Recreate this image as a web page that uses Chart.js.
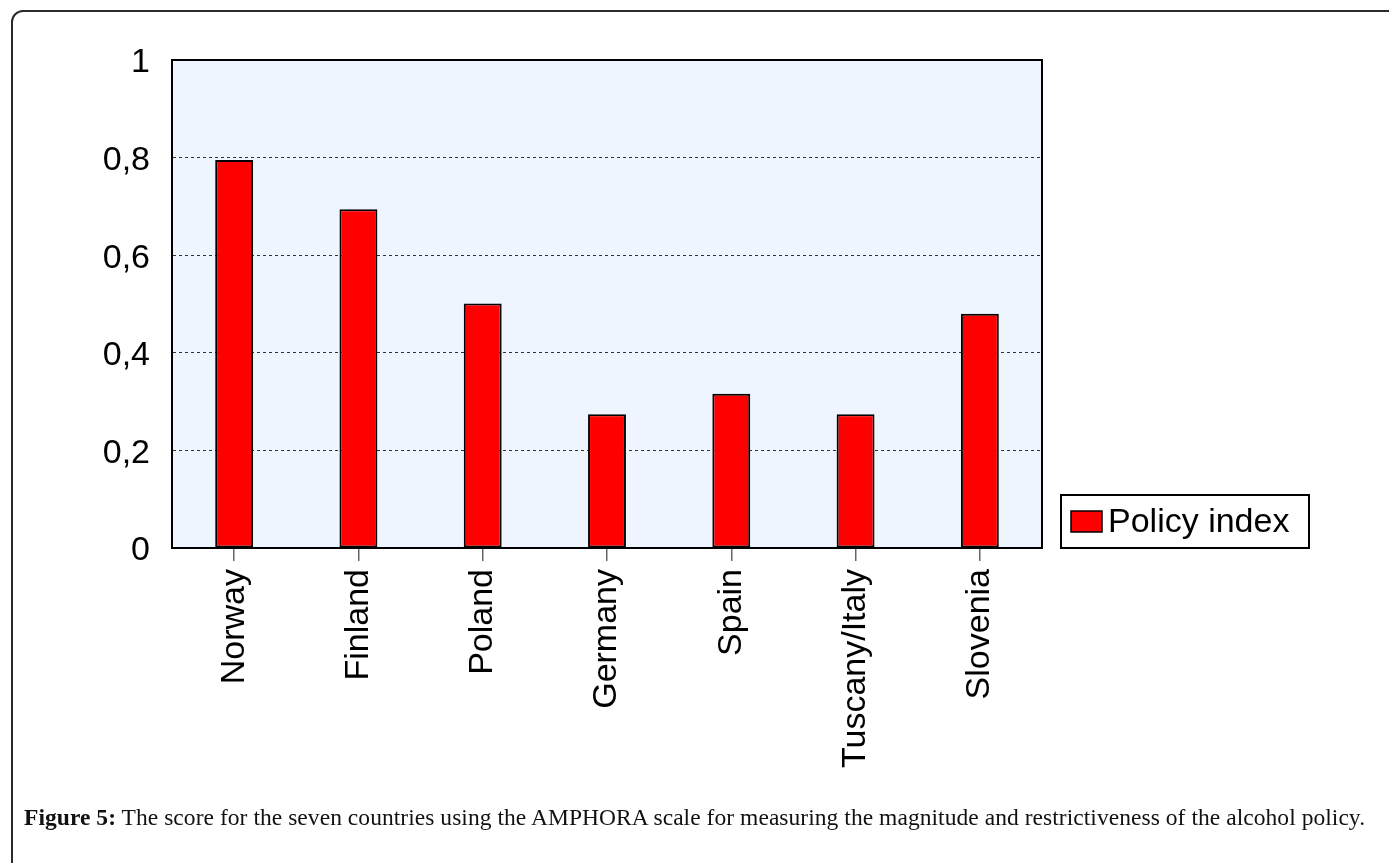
<!DOCTYPE html>
<html>
<head>
<meta charset="utf-8">
<script src="https://cdn.jsdelivr.net/npm/chart.js@4"></script>
<style>
  html, body { margin: 0; padding: 0; background: #fff; width: 1389px; height: 863px; overflow: hidden; }
  #frame { position: absolute; left: 11px; top: 10px; width: 2000px; height: 2000px;
           border: 2px solid #2b2b2b; border-radius: 12px; box-sizing: border-box; }
  #wrap { position: absolute; left: 0; top: 0; width: 1389px; height: 863px; }
  #caption { position: absolute; left: 24px; top: 804px; font-family: "Liberation Serif", "DejaVu Serif", serif;
             font-size: 23.5px; color: #111; white-space: nowrap; letter-spacing: 0.05px; }
  #caption b { font-weight: bold; }
</style>
</head>
<body>
<div id="frame"></div>
<div id="wrap"><canvas id="c" width="1389" height="863"></canvas></div>
<div id="caption"><b>Figure 5:</b> The score for the seven countries using the AMPHORA scale for measuring the magnitude and restrictiveness of the alcohol policy.</div>
<script>
const categories = ['Norway', 'Finland', 'Poland', 'Germany', 'Spain', 'Tuscany/Italy', 'Slovenia'];
const policyIndex = [0.795, 0.694, 0.501, 0.274, 0.316, 0.274, 0.480];
const seriesName = 'Policy index';
const yTickLabels = ['0', '0,2', '0,4', '0,6', '0,8', '1'];

const FONT = '"Liberation Sans", Arial, sans-serif';

const plotBg = {
  id: 'plotBg',
  beforeDraw(chart) {
    const { ctx, chartArea: a } = chart;
    ctx.save();
    ctx.fillStyle = '#eef5fe';
    ctx.fillRect(a.left, a.top, a.right - a.left, a.bottom - a.top);
    ctx.restore();
  },
  afterDraw(chart) {
    const { ctx, chartArea: a } = chart;
    ctx.save();
    ctx.strokeStyle = '#000';
    ctx.lineWidth = 2;
    ctx.strokeRect(a.left, a.top, a.right - a.left, a.bottom - a.top);
    // custom legend box
    const ds = chart.data.datasets[0];
    const bx = 1061, by = 495, bw = 248, bh = 53;
    ctx.fillStyle = '#fff';
    ctx.fillRect(bx, by, bw, bh);
    ctx.lineWidth = 2;
    ctx.strokeStyle = '#000';
    ctx.strokeRect(bx, by, bw, bh);
    ctx.fillStyle = ds.backgroundColor;
    ctx.fillRect(1071, 511, 31, 21);
    ctx.lineWidth = 1.5;
    ctx.strokeStyle = '#000';
    ctx.strokeRect(1071, 511, 31, 21);
    ctx.fillStyle = '#000';
    ctx.font = '34px ' + FONT;
    ctx.textBaseline = 'middle';
    ctx.textAlign = 'left';
    ctx.fillText(ds.label, 1108, 523);
    ctx.restore();
  }
};

new Chart(document.getElementById('c'), {
  type: 'bar',
  data: {
    labels: categories,
    datasets: [{
      label: seriesName,
      data: policyIndex,
      backgroundColor: '#ff0000',
      borderColor: '#000',
      borderWidth: 2,
      borderSkipped: false,
      categoryPercentage: 1,
      barPercentage: 0.305
    }]
  },
  options: {
    responsive: false,
    animation: false,
    layout: { padding: { left: 0, top: 60, right: 347, bottom: 0 } },
    plugins: { legend: { display: false }, tooltip: { enabled: false } },
    scales: {
      x: {
        offset: true,
        grid: { offset: false, drawOnChartArea: false, drawTicks: true, tickLength: 13, color: '#666', lineWidth: 1.5 },
        border: { display: true, color: '#000', width: 2 },
        ticks: { autoSkip: false, minRotation: 90, maxRotation: 90, padding: 8, color: '#000',
                 font: { family: FONT, size: 34 } },
        afterFit(scale) { scale.height = 315; }
      },
      y: {
        min: 0, max: 1,
        grid: { color: '#333', lineWidth: 1, drawTicks: false },
        border: { display: true, color: '#000', width: 2, dash: [3, 3] },
        ticks: { stepSize: 0.2, padding: 22, labelOffset: 3, color: '#000', font: { family: FONT, size: 34 },
                 callback: (v, i) => yTickLabels[i] },
        afterFit(scale) { scale.width = 172; }
      }
    }
  },
  plugins: [plotBg]
});
</script>
</body>
</html>
